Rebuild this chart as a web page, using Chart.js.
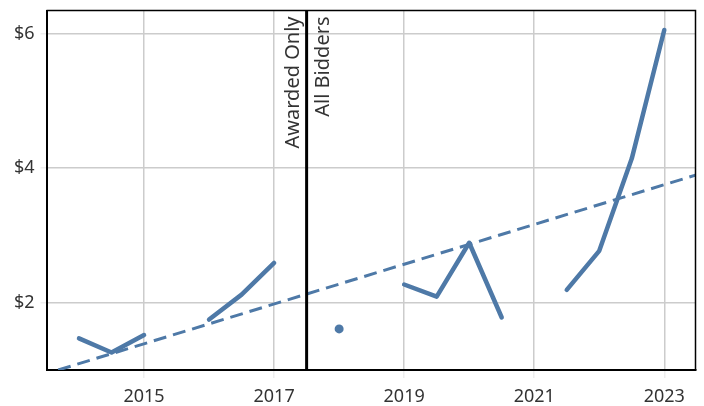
<!DOCTYPE html>
<html>
<head>
<meta charset="utf-8">
<script src="https://cdn.jsdelivr.net/npm/chart.js@4"></script>
<style>
  html, body { margin: 0; padding: 0; background: #fff; }
  #wrap { width: 704px; height: 406px; }
</style>
</head>
<body>
<div id="wrap"><canvas id="grafico"></canvas></div>
<script>
// dados (null = quebra na linha)
const anos = [2014, 2014.5, 2015, null, 2016, 2016.5, 2017, null, 2018, null, 2019, 2019.5, 2020, 2020.5, null, 2021.5, 2022, 2022.5, 2023];
const valores = [1.47, 1.26, 1.52, null, 1.75, 2.12, 2.59, null, 1.61, null, 2.27, 2.09, 2.89, 1.78, null, 2.19, 2.77, 4.14, 6.05];

// linha de tendencia (pontas)
const tendenciaAnos = [2013.68, 2023.5];
const tendenciaValores = [1.0, 3.9];

const anosTicks = [2015, 2017, 2019, 2021, 2023];
const valoresTicks = [2, 4, 6];

const anoDivisao = 2017.5;
const rotuloAntes = "Awarded Only";
const rotuloDepois = "All Bidders";

const azul = "#4e79a7";
const fonte = "'Noto Sans', sans-serif";

const pontos = anos.map((a, i) => a === null ? { x: NaN, y: null } : { x: a, y: valores[i] });
const tendencia = tendenciaAnos.map((a, i) => ({ x: a, y: tendenciaValores[i] }));

// ponto isolado (sem vizinhos) ganha um marcador
function isolado(i) {
    const antes = i > 0 ? valores[i - 1] : null;
    const depois = i < valores.length - 1 ? valores[i + 1] : null;
    return valores[i] !== null && antes === null && depois === null;
}

// moldura, linha vertical e rotulos
const extras = {
    id: "extras",
    afterDatasetsDraw(chart) {
        const ctx = chart.ctx;
        const area = chart.chartArea;
        const xs = chart.scales.x;
        const px = xs.getPixelForValue(anoDivisao);
        ctx.save();
        ctx.strokeStyle = "#000";
        ctx.lineWidth = 1.5;
        ctx.beginPath();
        ctx.moveTo(area.left, area.top);
        ctx.lineTo(area.right, area.top);
        ctx.lineTo(area.right, area.bottom);
        ctx.stroke();

        ctx.lineWidth = 3;
        ctx.beginPath();
        ctx.moveTo(px, area.top);
        ctx.lineTo(px, area.bottom);
        ctx.stroke();

        ctx.fillStyle = "#333";
        ctx.font = "20px " + fonte;
        ctx.textAlign = "right";
        ctx.translate(px, area.top + 6);
        ctx.rotate(-Math.PI / 2);
        ctx.textBaseline = "bottom";
        ctx.fillText(rotuloAntes, 0, -3);
        ctx.textBaseline = "top";
        ctx.fillText(rotuloDepois, 0, 7);
        ctx.restore();
    }
};

new Chart(document.getElementById("grafico"), {
    type: "line",
    data: {
        datasets: [{
            data: pontos,
            borderColor: azul,
            backgroundColor: azul,
            borderWidth: 4.5,
            borderCapStyle: "round",
            borderJoinStyle: "round",
            pointRadius: c => isolado(c.dataIndex) ? 4.5 : 0,
            pointBorderWidth: 0,
            spanGaps: false,
            tension: 0
        }, {
            data: tendencia,
            borderColor: azul,
            borderWidth: 3,
            borderDash: [13, 7],
            pointRadius: 0,
            tension: 0
        }]
    },
    options: {
        responsive: true,
        maintainAspectRatio: false,
        animation: false,
        layout: { padding: { top: 10.5, right: 8.5, left: 0, bottom: 0 } },
        plugins: { legend: { display: false }, tooltip: { enabled: false } },
        scales: {
            x: {
                type: "linear",
                min: 2013.5,
                max: 2023.48,
                afterBuildTicks: s => { s.ticks = anosTicks.map(v => ({ value: v })); },
                afterFit: s => { s.height = 36; s.paddingLeft = 0; s.paddingRight = 0; },
                grid: { color: "#cccccc", lineWidth: 1.5, tickLength: 8, drawTicks: true, tickColor: "#eeeeee" },
                border: { color: "#000", width: 2 },
                ticks: { color: "#333", font: { family: fonte, size: 18 }, padding: 8, maxRotation: 0, callback: v => String(v) }
            },
            y: {
                min: 1.0,
                max: 6.34,
                afterBuildTicks: s => { s.ticks = valoresTicks.map(v => ({ value: v })); },
                afterFit: s => { s.width = 46.5; s.paddingTop = 0; s.paddingBottom = 0; },
                grid: { color: "#cccccc", lineWidth: 1.5, tickLength: 6, tickColor: "#eeeeee" },
                border: { color: "#000", width: 2 },
                ticks: { color: "#333", font: { family: fonte, size: 18 }, padding: 6, callback: v => "$" + v }
            }
        }
    },
    plugins: [extras]
});
</script>
</body>
</html>
